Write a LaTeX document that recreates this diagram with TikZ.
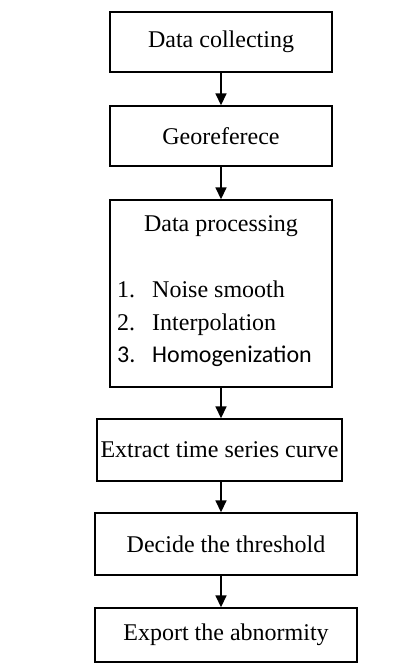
\documentclass[tikz,border=0pt]{standalone}
\usepackage{fontspec}
\setmainfont{Liberation Serif}
\newfontfamily\calib{Carlito}
\usetikzlibrary{arrows.meta}
\begin{document}
\begin{tikzpicture}[x=1pt,y=-1pt,
  box/.style={draw, line width=1.4pt, inner sep=0pt, font=\fontsize{24}{28}\selectfont},
  txt/.style={inner sep=0pt, font=\fontsize{24}{28}\selectfont},
  arr/.style={-{Triangle[length=12pt,width=11pt]}, line width=1.6pt}]
\useasboundingbox (0,0) rectangle (420,664);
\node[box, minimum width=222pt, minimum height=60pt] (b1) at (221,42) {Data collecting};
\node[box, minimum width=222pt, minimum height=60pt] (b2) at (221,136) {Georeferece};
\node[box, minimum width=222pt, minimum height=187pt] (b3) at (221,293.5) {};
\node[txt] (h3) at (221,226) {Data processing};
\node[txt, anchor=base west] (n1) at (117,297) {1.};
\node[txt, anchor=base west] (t1) at (152,297) {Noise smooth};
\node[txt, anchor=base west] (n2) at (117,330) {2.};
\node[txt, anchor=base west] (t2) at (152,330) {Interpolation};
\node[txt, anchor=base west, font=\fontsize{24}{28}\calib] (n3) at (117,362) {3.};
\node[txt, anchor=base west, font=\fontsize{24}{28}\calib] (t3) at (152,362) {Homogenization};
\node[box, minimum width=245pt, minimum height=62pt] (b4) at (219.5,450) {Extract time series curve};
\node[box, minimum width=262pt, minimum height=62pt] (b5) at (226,544) {Decide the threshold};
\node[box, minimum width=262pt, minimum height=54pt] (b6) at (226,635) {Export the abnormity};
\draw[arr] (b1.south) -- (b2.north);
\draw[arr] (b2.south) -- (b3.north);
\draw[arr] (b3.south) -- (b3.south |- b4.north);
\draw[arr] (b4.south -| b3.south) -- (b5.north -| b3.south);
\draw[arr] (b5.south -| b3.south) -- (b6.north -| b3.south);
\end{tikzpicture}
\end{document}
